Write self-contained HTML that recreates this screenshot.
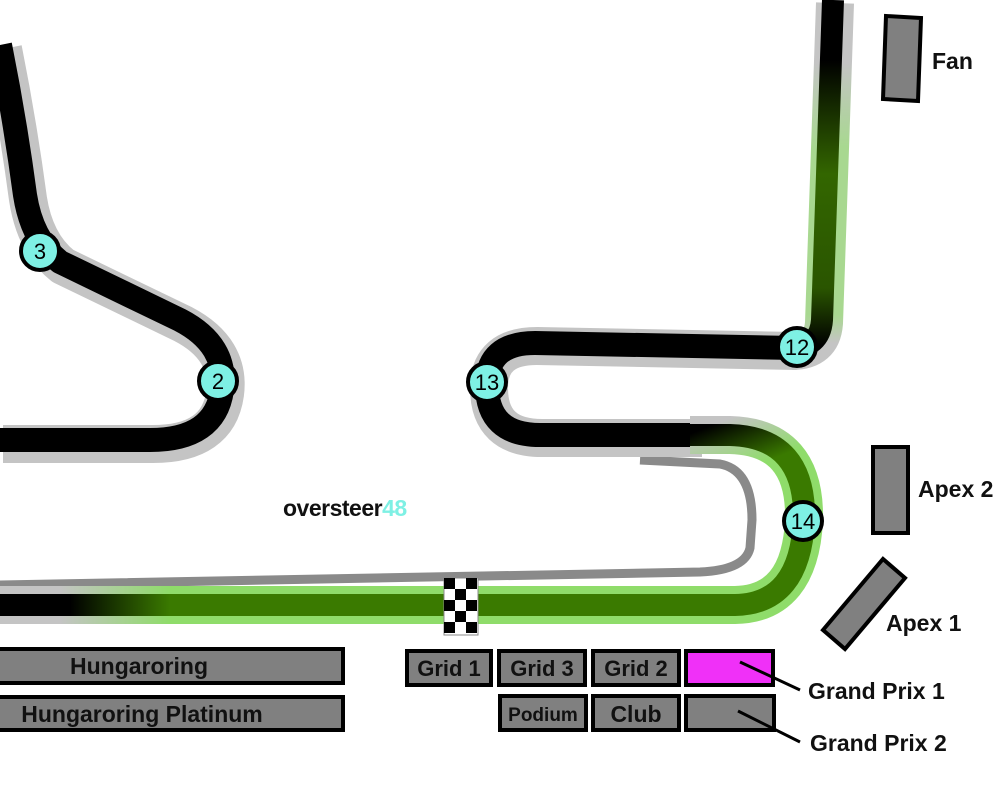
<!DOCTYPE html>
<html><head><meta charset="utf-8"><style>
html,body{margin:0;padding:0;background:#fff;width:1008px;height:791px;overflow:hidden}
svg text{font-family:"Liberation Sans",sans-serif;font-weight:bold}
</style></head><body>
<svg width="1008" height="791" viewBox="0 0 1008 791" xmlns="http://www.w3.org/2000/svg">
<defs>
<linearGradient id="gMainO" gradientUnits="userSpaceOnUse" x1="60" y1="0" x2="170" y2="0"><stop offset="0" stop-color="#c4c4c4"/><stop offset="1" stop-color="#8fdc6a"/></linearGradient>
<linearGradient id="gMainI" gradientUnits="userSpaceOnUse" x1="70" y1="0" x2="170" y2="0"><stop offset="0" stop-color="#000"/><stop offset="1" stop-color="#3a7a00"/></linearGradient>
<linearGradient id="gTopO" gradientUnits="userSpaceOnUse" x1="0" y1="60" x2="0" y2="340"><stop offset="0" stop-color="#c4c4c4"/><stop offset="0.3" stop-color="#a8d890"/><stop offset="0.9" stop-color="#a8d890"/><stop offset="1" stop-color="#c4c4c4"/></linearGradient>
<linearGradient id="gTopI" gradientUnits="userSpaceOnUse" x1="0" y1="60" x2="0" y2="345"><stop offset="0" stop-color="#000"/><stop offset="0.4" stop-color="#336600"/><stop offset="0.8" stop-color="#2a5500"/><stop offset="1" stop-color="#000"/></linearGradient>
<linearGradient id="g14O" gradientUnits="userSpaceOnUse" x1="700" y1="430" x2="720" y2="480"><stop offset="0" stop-color="#c4c4c4"/><stop offset="1" stop-color="#8fdc6a"/></linearGradient>
<linearGradient id="g14I" gradientUnits="userSpaceOnUse" x1="700" y1="430" x2="720" y2="480"><stop offset="0" stop-color="#000"/><stop offset="1" stop-color="#3a7a00"/></linearGradient>
</defs>

<path d="M640,460 L720,464 Q752,470 752,520 L750,548 Q745,570 700,572 L0,585" fill="none" stroke="#8a8a8a" stroke-width="9"/>

<g fill="none" stroke-linecap="butt" stroke-linejoin="round">
<path d="M0,45 Q15,120 25,195 Q32,240 60,262 L180,320 Q228,345 222,390 Q215,440 150,440 L0,440" stroke="#c4c4c4" stroke-width="38" transform="translate(3,4)"/>
<path d="M0,45 Q15,120 25,195 Q32,240 60,262 L180,320 Q228,345 222,390 Q215,440 150,440 L0,440" stroke="#000" stroke-width="24"/>

<path d="M833,0 L822,320 Q820,348 790,348" stroke="url(#gTopO)" stroke-width="38" transform="translate(2,3)"/>
<path d="M833,0 L822,320 Q820,348 790,348" stroke="url(#gTopI)" stroke-width="22"/>
<path d="M795,348 L535,343 Q487,343 487,385 Q487,435 540,435 L700,435" stroke="#c4c4c4" stroke-width="38" transform="translate(2,3)"/>
<path d="M795,348 L535,343 Q487,343 487,385 Q487,435 540,435 L700,435" stroke="#000" stroke-width="24"/>
<path d="M690,435 L730,435 Q806,437 804,520 Q800,604 735,605 L600,605" stroke="url(#g14O)" stroke-width="38"/>
<path d="M690,435 L730,435 Q806,437 804,520 Q800,604 735,605 L600,605" stroke="url(#g14I)" stroke-width="22"/>
<path d="M0,605 L620,605" stroke="url(#gMainO)" stroke-width="38"/>
<path d="M0,605 L620,605" stroke="url(#gMainI)" stroke-width="22"/>
</g>

<g transform="translate(444,578)">
<rect x="0" y="0" width="34" height="57" fill="#fff" stroke="#888" stroke-width="1"/>
<g fill="#000">
<rect x="0" y="0" width="11" height="11"/><rect x="22" y="0" width="11" height="11"/>
<rect x="11" y="11" width="11" height="11"/>
<rect x="0" y="22" width="11" height="11"/><rect x="22" y="22" width="11" height="11"/>
<rect x="11" y="33" width="11" height="11"/>
<rect x="0" y="44" width="11" height="11"/><rect x="22" y="44" width="11" height="11"/>
</g></g>

<g stroke="#000" stroke-width="4" fill="#7ef0e4">
<circle cx="40" cy="251" r="19"/><circle cx="218" cy="381" r="19"/><circle cx="487" cy="382" r="19"/><circle cx="797" cy="347" r="19"/><circle cx="803" cy="521" r="19"/>
</g>
<g font-size="22" text-anchor="middle" fill="#000">
<text x="40" y="259" style="font-weight:normal">3</text>
<text x="218" y="389" style="font-weight:normal">2</text>
<text x="487" y="390" style="font-weight:normal">13</text>
<text x="797" y="355" style="font-weight:normal">12</text>
<text x="803" y="529" style="font-weight:normal">14</text>
</g>

<text x="283" y="516" font-size="23" fill="#111" style="letter-spacing:-0.5px">oversteer<tspan fill="#7ef0e4">48</tspan></text>

<g stroke="#000" stroke-width="4" fill="#808080">
<polygon points="886,16 921,18 918,101 883,99"/>
<rect x="873" y="447" width="35" height="86"/>
<polygon points="823,630 883,559 905,578 845,649"/>
<rect x="-5" y="649" width="348" height="34"/>
<rect x="-5" y="697" width="348" height="33"/>
<rect x="407" y="651" width="84" height="34"/>
<rect x="499" y="651" width="86" height="34"/>
<rect x="593" y="651" width="86" height="34"/>
<rect x="686" y="651" width="87" height="34" fill="#f030f8"/>
<rect x="500" y="696" width="86" height="34"/>
<rect x="593" y="696" width="86" height="34"/>
<rect x="686" y="696" width="88" height="34"/>
</g>
<g stroke="#000" stroke-width="3">
<line x1="740" y1="662" x2="800" y2="690"/>
<line x1="738" y1="711" x2="800" y2="742"/>
</g>
<g font-size="23" fill="#111">
<text x="932" y="69">Fan</text>
<text x="918" y="497">Apex 2</text>
<text x="886" y="631">Apex 1</text>
<text x="808" y="699">Grand Prix 1</text>
<text x="810" y="751">Grand Prix 2</text>
</g>
<g font-size="23" fill="#111" text-anchor="middle">
<text x="139" y="674">Hungaroring</text>
<text x="142" y="722">Hungaroring Platinum</text>
<text x="449" y="676" font-size="22">Grid 1</text>
<text x="542" y="676" font-size="22">Grid 3</text>
<text x="636" y="676" font-size="22">Grid 2</text>
<text x="543" y="721" font-size="19">Podium</text>
<text x="636" y="722">Club</text>
</g>
</svg>
</body></html>
